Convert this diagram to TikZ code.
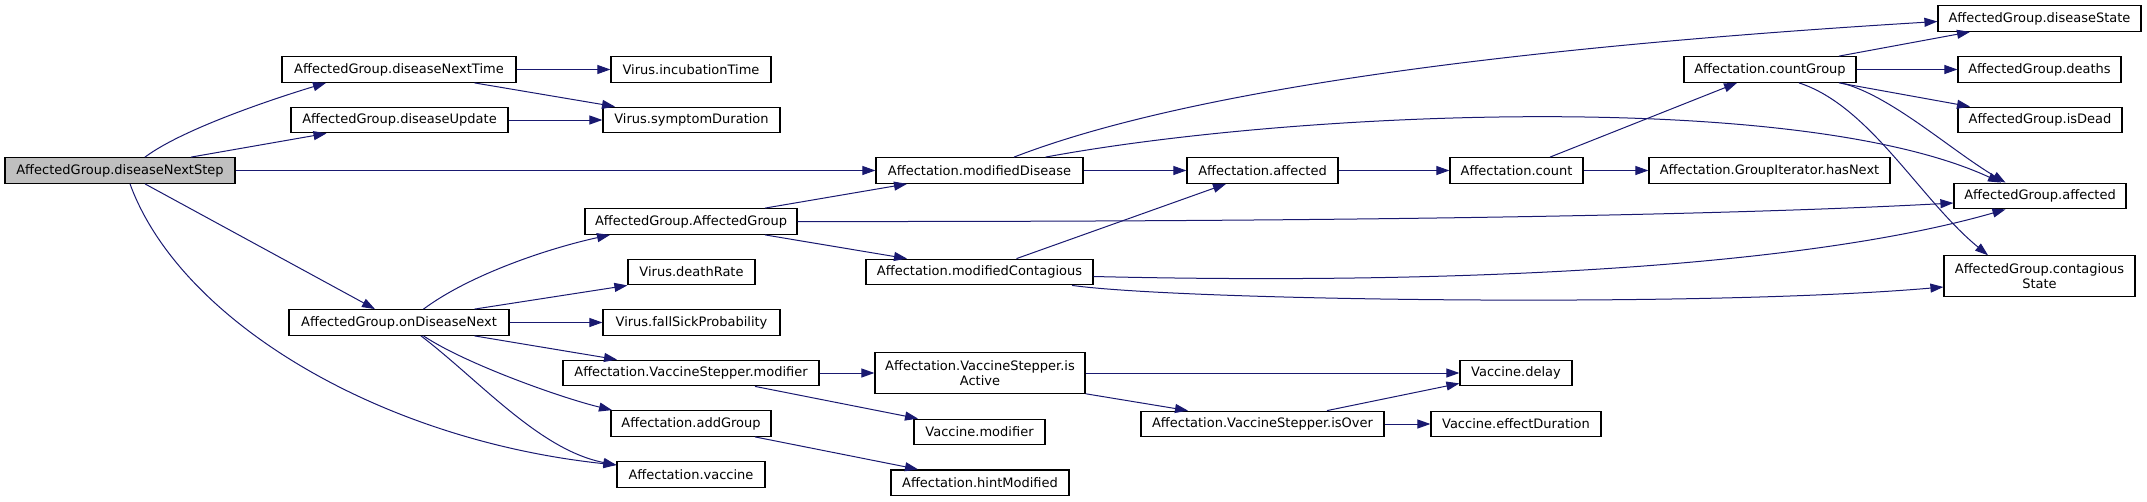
\documentclass[tikz,border=0pt]{standalone}
\usepackage{fontspec}
\setmainfont{DejaVu Sans}
\usetikzlibrary{arrows.meta}
\definecolor{edgeblue}{HTML}{191970}
\definecolor{rootgray}{HTML}{BFBFBF}
\begin{document}
\begin{tikzpicture}[x=1pt, y=-1pt,
  fn/.style={draw=black, line width=1.2pt, fill=white, font=\fontsize{13}{14.5}\selectfont, minimum height=25.6pt, inner sep=0pt, align=center},
  call/.style={draw=edgeblue, line width=1pt, -{Triangle[length=13pt,width=9pt]}}]
  \useasboundingbox (0,0) rectangle (2147,501);
  % callers, left part
  \node[fn, fill=rootgray, minimum width=230pt] (nstep) at (120,170.5) {AffectedGroup.diseaseNextStep};
  \node[fn, minimum width=234pt] (ntime) at (399,69.5) {AffectedGroup.diseaseNextTime};
  \node[fn, minimum width=217pt] (upd) at (399.5,120) {AffectedGroup.diseaseUpdate};
  \node[fn, minimum width=220pt] (next) at (399,322.5) {AffectedGroup.onDiseaseNext};
  \node[fn, minimum width=160pt] (incub) at (691,69.5) {Virus.incubationTime};
  \node[fn, minimum width=177pt] (symp) at (691.5,120) {Virus.symptomDuration};
  \node[fn, minimum width=212pt] (ag) at (691,221.5) {AffectedGroup.AffectedGroup};
  \node[fn, minimum width=127pt] (death) at (691.5,272) {Virus.deathRate};
  \node[fn, minimum width=177pt] (fall) at (691.5,322.5) {Virus.fallSickProbability};
  \node[fn, minimum width=256pt] (vsmod) at (691,373) {Affectation.VaccineStepper.modifier};
  \node[fn, minimum width=160pt] (addg) at (691,423.5) {Affectation.addGroup};
  \node[fn, minimum width=148pt] (vacc) at (691,474.5) {Affectation.vaccine};
  % middle part
  \node[fn, minimum width=207pt] (mdis) at (979.5,170.5) {Affectation.modifiedDisease};
  \node[fn, minimum width=227pt] (mcon) at (979.5,272) {Affectation.modifiedContagious};
  \node[fn, minimum width=210pt, minimum height=40.3pt] (isact) at (980,373) {Affectation.VaccineStepper.is\\Active};
  \node[fn, minimum width=131pt] (vmod) at (979.5,432) {Vaccine.modifier};
  \node[fn, minimum width=178pt] (hint) at (980,482.7) {Affectation.hintModified};
  \node[fn, minimum width=151pt] (aff) at (1262.5,170.5) {Affectation.affected};
  \node[fn, minimum width=243pt] (isover) at (1262.5,424) {Affectation.VaccineStepper.isOver};
  \node[fn, minimum width=133pt] (count) at (1516.5,170.5) {Affectation.count};
  \node[fn, minimum width=112pt] (delay) at (1516,373) {Vaccine.delay};
  \node[fn, minimum width=170pt] (effd) at (1516,424) {Vaccine.effectDuration};
  % right part
  \node[fn, minimum width=172pt] (cgroup) at (1770,69.5) {Affectation.countGroup};
  \node[fn, minimum width=241pt] (hasnext) at (1769.5,170.5) {Affectation.GroupIterator.hasNext};
  \node[fn, minimum width=203pt] (dstate) at (2039.5,18.5) {AffectedGroup.diseaseState};
  \node[fn, minimum width=163pt] (deaths) at (2039.5,69.5) {AffectedGroup.deaths};
  \node[fn, minimum width=164pt] (isdead) at (2040,120) {AffectedGroup.isDead};
  \node[fn, minimum width=172pt] (gaff) at (2040,196) {AffectedGroup.affected};
  \node[fn, minimum width=191pt, minimum height=40.3pt] (cstate) at (2039.5,276) {AffectedGroup.contagious\\State};
  % calls
  \draw[call] ([xshift=25pt]nstep.north) .. controls +(40,-30) and +(-40,12) .. ([xshift=-73pt]ntime.south);
  \draw[call] ([xshift=71pt]nstep.north) -- ([xshift=-73pt]upd.south);
  \draw[call] (nstep) -- (mdis);
  \draw[call] ([xshift=25pt]nstep.south) -- ([xshift=-24pt]next.north);
  \draw[call] ([xshift=10pt]nstep.south) .. controls +(50,137) and +(-237,-25) .. ([yshift=9.5pt]vacc.west);
  \draw[call] (ntime) -- (incub);
  \draw[call] ([xshift=75.5pt]ntime.south) -- ([xshift=-76.5pt]symp.north);
  \draw[call] (upd) -- (symp);
  \draw[call] ([xshift=24.5pt]next.north) .. controls +(47,-35) and +(-60,13) .. ([xshift=-81pt]ag.south);
  \draw[call] ([xshift=75.5pt]next.north) -- (death.south west);
  \draw[call] (next) -- (fall);
  \draw[call] ([xshift=75.5pt]next.south) -- ([xshift=-74pt]vsmod.north);
  \draw[call] ([xshift=24.5pt]next.south) .. controls +(42,28) and +(-50,-12) .. ([xshift=-79pt]addg.north);
  \draw[call] ([xshift=22pt]next.south) .. controls +(59,45) and +(-77,-15) .. ([yshift=9.5pt]vacc.west);
  \draw[call] ([xshift=74pt]ag.north) -- ([xshift=-72.5pt]mdis.south);
  \draw[call] (ag.east) .. controls +(603,0.5) and +(-204,11) .. ([yshift=-7pt]gaff.west);
  \draw[call] ([xshift=74pt]ag.south) -- ([xshift=-72.5pt]mcon.north);
  \draw[call] (vsmod) -- (isact);
  \draw[call] ([xshift=64pt]vsmod.south) -- ([xshift=-61.5pt]vmod.north);
  \draw[call] ([xshift=64pt]addg.south) -- ([xshift=-62pt]hint.north);
  \draw[call] (mdis) -- (aff);
  \draw[call] ([xshift=34.5pt]mdis.north) .. controls +(186,-72) and +(-388,23.5) .. ([yshift=-3pt]dstate.west);
  \draw[call] ([xshift=66pt]mdis.north) .. controls +(254,-47) and +(-201,-93) .. ([xshift=-39pt]gaff.north);
  \draw[call] ([xshift=37pt]mcon.north) -- ([xshift=-36.5pt]aff.south);
  \draw[call] ([yshift=-4.5pt]mcon.east) .. controls +(357,8.5) and +(-205.5,59) .. ([xshift=-34.5pt]gaff.south);
  \draw[call] ([xshift=92.5pt]mcon.south) .. controls +(108,15) and +(-244,21) .. ([yshift=-11pt]cstate.west);
  \draw[call] (aff) -- (count);
  \draw[call] ([xshift=33.5pt]count.north) -- ([xshift=-33pt]cgroup.south);
  \draw[call] (count) -- (hasnext);
  \draw[call] ([xshift=69pt]cgroup.north) -- ([xshift=-69.5pt]dstate.south);
  \draw[call] (cgroup) -- (deaths);
  \draw[call] ([xshift=69pt]cgroup.south) -- ([xshift=-70pt]isdead.north);
  \draw[call] ([xshift=71pt]cgroup.south) .. controls +(49,12) and +(-55.5,-33) .. ([xshift=-34.5pt]gaff.north);
  \draw[call] ([xshift=29pt]cgroup.south) .. controls +(71,23) and +(-68,-55.7) .. ([xshift=-51.5pt]cstate.north);
  \draw[call] (isact) -- (delay);
  \draw[call] (isact.south east) -- ([xshift=-74.5pt]isover.north);
  \draw[call] ([xshift=64.5pt]isover.north) -- ([yshift=3pt]delay.south west);
  \draw[call] (isover) -- (effd);
\end{tikzpicture}
\end{document}
